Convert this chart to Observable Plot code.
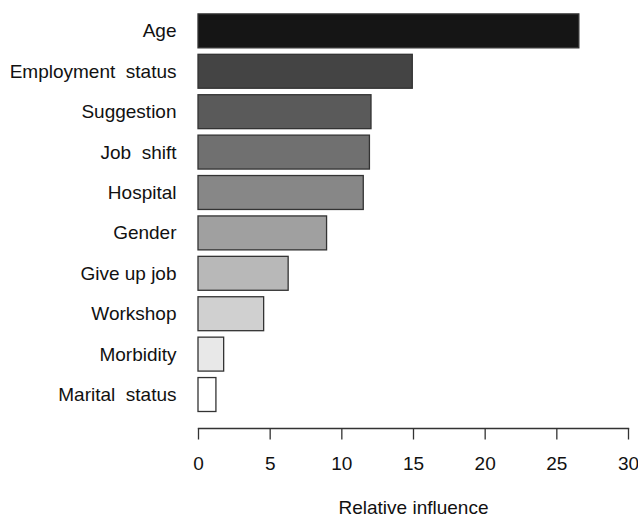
<!DOCTYPE html>
<html>
<head>
<meta charset="utf-8">
<script src="https://cdn.jsdelivr.net/npm/d3@7"></script>
<script src="https://cdn.jsdelivr.net/npm/@observablehq/plot@0.6"></script>
<style>
  html, body { margin: 0; padding: 0; background: #fff; }
  #chart svg { display: block; }
</style>
</head>
<body>
<div id="chart"></div>
<script>
const categories = ["Age", "Employment  status", "Suggestion", "Job  shift", "Hospital", "Gender", "Give up job", "Workshop", "Morbidity", "Marital  status"];
const influence = [26.57, 14.95, 12.07, 11.96, 11.53, 8.97, 6.29, 4.58, 1.79, 1.25];
const xTicks = [0, 5, 10, 15, 20, 25, 30];
const grays = ["#151515", "#444444", "#5a5a5a", "#707070", "#878787", "#a0a0a0", "#b8b8b8", "#d0d0d0", "#e8e8e8", "#ffffff"];
const xLabel = "Relative influence";

const data = categories.map((c, i) => ({category: c, value: influence[i]}));

const chart = Plot.plot({
  width: 638,
  height: 516,
  marginLeft: 198,
  marginRight: 10,
  marginTop: 10,
  marginBottom: 88,
  style: {fontFamily: "'Liberation Sans', Arial, sans-serif", fontSize: "19px", color: "#111", background: "#fff"},
  x: {domain: [0, 30], ticks: xTicks},
  y: {type: "band", domain: categories, range: [13.9, 411.5], paddingInner: 0.16, paddingOuter: 0, round: false},
  color: {type: "ordinal", domain: categories, range: grays},
  marks: [
    Plot.barX(data, {x: "value", y: "category", fill: "category", stroke: "#333", strokeWidth: 1.3}),
    Plot.frame({anchor: "bottom", stroke: "#333", strokeWidth: 1.3}),
    Plot.axisX({ticks: xTicks, tickSize: 11.5, tickPadding: 16, tickFormat: d => String(d), label: null, stroke: "#333", strokeWidth: 1.3, fontSize: 19, fill: "#111"}),
    Plot.axisY({tickSize: 0, tickPadding: 22, label: null, fontSize: 19, fill: "#111"}),
    Plot.text([xLabel], {frameAnchor: "bottom", dy: 85, fontSize: 19, fill: "#111", text: d => d})
  ]
});
chart.style.whiteSpace = "pre";
document.getElementById("chart").append(chart);
</script>
</body>
</html>
